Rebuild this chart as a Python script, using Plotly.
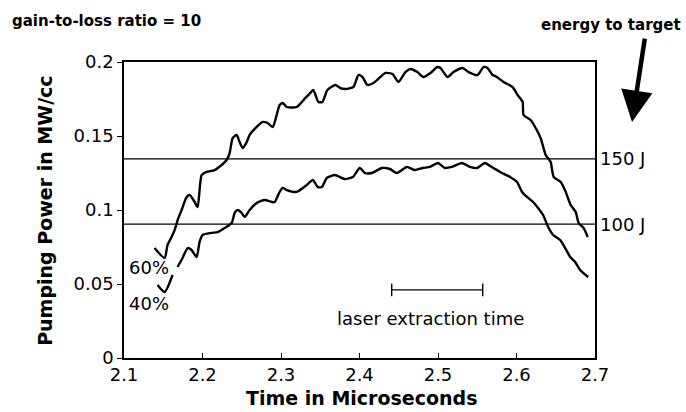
import plotly.graph_objects as go

# ---- data ----
time_60 = [2.1389, 2.1517, 2.1555, 2.1606, 2.1645, 2.1683, 2.1734, 2.1798, 2.1837, 2.1900,
           2.1938, 2.1989, 2.2052, 2.2154, 2.2244, 2.2307, 2.2346, 2.2384, 2.2435, 2.2473,
           2.2511, 2.2563, 2.2601, 2.2690, 2.2767, 2.2830, 2.2894, 2.2945, 2.2983, 2.3022,
           2.3073, 2.3200, 2.3310, 2.3374, 2.3412, 2.3476, 2.3527, 2.3591, 2.3693, 2.3756,
           2.3820, 2.3922, 2.3986, 2.4037, 2.4101, 2.4177, 2.4267, 2.4330, 2.4420, 2.4496,
           2.4585, 2.4649, 2.4738, 2.4815, 2.4904, 2.4993, 2.5032, 2.5121, 2.5198, 2.5313,
           2.5389, 2.5504, 2.5580, 2.5631, 2.5695, 2.5751, 2.5835, 2.5950, 2.6014, 2.6078,
           2.6090, 2.6180, 2.6244, 2.6308, 2.6372, 2.6435, 2.6474, 2.6563, 2.6627, 2.6690,
           2.6754, 2.6792, 2.6856, 2.6907]
power_60 = [0.0743, 0.0676, 0.0764, 0.0818, 0.0865, 0.0932, 0.1000, 0.1088, 0.1101, 0.1054,
            0.1020, 0.1236, 0.1257, 0.1270, 0.1304, 0.1338, 0.1385, 0.1486, 0.1507, 0.1459,
            0.1419, 0.1459, 0.1507, 0.1561, 0.1595, 0.1588, 0.1561, 0.1642, 0.1709, 0.1723,
            0.1696, 0.1696, 0.1757, 0.1791, 0.1811, 0.1730, 0.1730, 0.1811, 0.1845, 0.1824,
            0.1818, 0.1831, 0.1912, 0.1899, 0.1845, 0.1858, 0.1899, 0.1926, 0.1919, 0.1865,
            0.1932, 0.1953, 0.1932, 0.1899, 0.1926, 0.1966, 0.1959, 0.1899, 0.1932, 0.1959,
            0.1932, 0.1912, 0.1966, 0.1959, 0.1912, 0.1899, 0.1865, 0.1831, 0.1777, 0.1730,
            0.1642, 0.1608, 0.1554, 0.1486, 0.1372, 0.1324, 0.1223, 0.1189, 0.1122, 0.1034,
            0.0986, 0.0912, 0.0878, 0.0818]

time_40 = [2.1427, 2.1517, 2.1619, None, 2.1682, 2.1746, 2.1810, 2.1861, 2.1925, 2.1963,
           2.2001, 2.2116, 2.2193, 2.2282, 2.2372, 2.2410, 2.2448, 2.2499, 2.2537, 2.2601,
           2.2690, 2.2792, 2.2881, 2.2920, 2.2983, 2.3022, 2.3073, 2.3200, 2.3328, 2.3405,
           2.3469, 2.3520, 2.3583, 2.3686, 2.3813, 2.3915, 2.4004, 2.4068, 2.4157, 2.4285,
           2.4387, 2.4476, 2.4603, 2.4705, 2.4807, 2.4897, 2.4999, 2.5088, 2.5177, 2.5305,
           2.5407, 2.5497, 2.5599, 2.5663, 2.5790, 2.5918, 2.6007, 2.6071, 2.6134, 2.6211,
           2.6275, 2.6339, 2.6403, 2.6467, 2.6556, 2.6620, 2.6684, 2.6747, 2.6811, 2.6913]
power_40 = [0.0493, 0.0446, 0.0561, None, 0.0615, 0.0676, 0.0743, 0.0730, 0.0682, 0.0784,
            0.0831, 0.0845, 0.0851, 0.0878, 0.0912, 0.0980, 0.1000, 0.0980, 0.0953, 0.1000,
            0.1047, 0.1068, 0.1054, 0.1054, 0.1122, 0.1149, 0.1135, 0.1122, 0.1169, 0.1203,
            0.1155, 0.1155, 0.1216, 0.1236, 0.1209, 0.1223, 0.1284, 0.1250, 0.1250, 0.1284,
            0.1277, 0.1250, 0.1291, 0.1270, 0.1284, 0.1291, 0.1318, 0.1284, 0.1291, 0.1318,
            0.1291, 0.1284, 0.1318, 0.1297, 0.1257, 0.1223, 0.1189, 0.1122, 0.1088, 0.1054,
            0.1014, 0.0966, 0.0885, 0.0831, 0.0797, 0.0743, 0.0682, 0.0649, 0.0595, 0.0547]

series_labels = ["60%", "40%"]
series_label_pos = [(2.132, 0.061), (2.132, 0.037)]

energy_labels = ["150 J", "100 J"]
energy_power = [0.1345, 0.0905]

extraction_time = [2.441, 2.557]
extraction_level = 0.046
extraction_label = "laser extraction time"
extraction_label_pos = (2.491, 0.027)

x_ticks = [2.1, 2.2, 2.3, 2.4, 2.5, 2.6, 2.7]
x_tick_text = ["2.1", "2.2", "2.3", "2.4", "2.5", "2.6", "2.7"]
y_ticks = [0, 0.05, 0.1, 0.15, 0.2]
y_tick_text = ["0", "0.05", "0.1", "0.15", "0.2"]

x_title = "Time in Microseconds"
y_title = "Pumping Power in MW/cc"
header_left = "gain-to-loss ratio = 10"
header_right = "energy to target"

FONT = "DejaVu Sans"

fig = go.Figure()

fig.add_trace(go.Scatter(x=time_60, y=power_60, mode="lines", name="60%",
                         line=dict(color="black", width=2.4, shape="spline", smoothing=0.6),
                         connectgaps=False))
fig.add_trace(go.Scatter(x=time_40, y=power_40, mode="lines", name="40%",
                         line=dict(color="black", width=2.4, shape="spline", smoothing=0.6),
                         connectgaps=False))

# laser extraction time bar
fig.add_trace(go.Scatter(x=extraction_time, y=[extraction_level] * len(extraction_time),
                         mode="lines+markers", name="laser extraction time",
                         line=dict(color="black", width=1.2),
                         marker=dict(symbol="line-ns-open", size=9,
                                     line=dict(color="black", width=1.4))))

for lab, val in zip(energy_labels, energy_power):
    fig.add_shape(type="line", xref="paper", x0=0, x1=1, yref="y", y0=val, y1=val,
                  line=dict(color="black", width=1.2))
    fig.add_annotation(text=lab, xref="paper", x=1.006, yref="y", y=val,
                       xanchor="left", yanchor="middle", showarrow=False,
                       font=dict(family=FONT, size=18, color="black"))

for lab, (lx, ly) in zip(series_labels, series_label_pos):
    fig.add_annotation(text=lab, x=lx, y=ly, xanchor="center", yanchor="middle",
                       showarrow=False, font=dict(family=FONT, size=18, color="black"))

fig.add_annotation(text=extraction_label, x=extraction_label_pos[0], y=extraction_label_pos[1],
                   xanchor="center", yanchor="middle", showarrow=False,
                   font=dict(family=FONT, size=18, color="black"))

# axis titles
fig.add_annotation(text=x_title, xref="paper", yref="paper", x=0.505, y=-0.135,
                   xanchor="center", yanchor="middle", showarrow=False,
                   font=dict(family=FONT, size=19, color="black", weight="bold"))
fig.add_annotation(text=y_title, xref="paper", yref="paper", x=-0.168, y=0.5,
                   xanchor="center", yanchor="middle", textangle=-90, showarrow=False,
                   font=dict(family=FONT, size=19, color="black", weight="bold"))

# header texts
fig.add_annotation(text=header_left, xref="paper", yref="paper",
                   x=-0.243, y=1.14, xanchor="left", yanchor="middle", showarrow=False,
                   font=dict(family=FONT, size=15, color="black", weight="bold"))
fig.add_annotation(text=header_right, xref="paper", yref="paper",
                   x=1.187, y=1.125, xanchor="right", yanchor="middle", showarrow=False,
                   font=dict(family=FONT, size=15, color="black", weight="bold"))
# arrow
fig.add_annotation(text="", xref="paper", yref="paper", x=1.0786, y=0.797,
                   ax=13, ay=-85, showarrow=True, arrowhead=2, arrowsize=1.4,
                   arrowwidth=4.5, arrowcolor="black")

fig.update_layout(
    width=686, height=412,
    margin=dict(l=124, r=91, t=62, b=54),
    paper_bgcolor="white", plot_bgcolor="white",
    showlegend=False,
    font=dict(family=FONT, color="black"),
    xaxis=dict(range=[2.1, 2.7], tickvals=x_ticks, ticktext=x_tick_text,
               showgrid=False, zeroline=False, showline=True, mirror=True,
               linecolor="black", linewidth=1.5, ticks="inside", ticklen=5,
               tickcolor="black", ticklabelstandoff=0, automargin=False,
               tickfont=dict(family=FONT, size=18, color="black")),
    yaxis=dict(range=[0, 0.2], tickvals=y_ticks, ticktext=y_tick_text,
               showgrid=False, zeroline=False, showline=True, mirror=True,
               linecolor="black", linewidth=1.5, ticks="outside", ticklen=5,
               tickcolor="black", automargin=False,
               tickfont=dict(family=FONT, size=18, color="black")),
)

fig.write_html("out.html", config={"displayModeBar": False},
               post_script="document.body.style.margin='0';document.body.style.overflow='hidden';")
